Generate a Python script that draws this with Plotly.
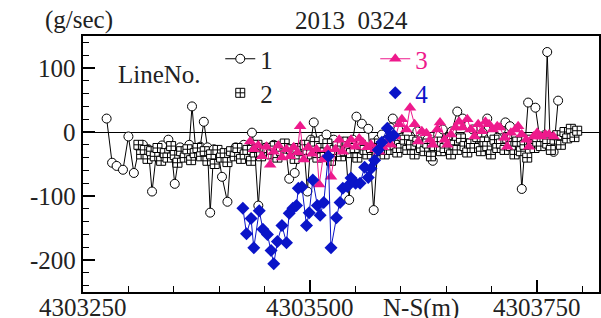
import plotly.graph_objects as go

# ---- data ----
s1_x = [4303276, 4303282, 4303287, 4303294, 4303300, 4303306, 4303312, 4303316, 4303322, 4303326,
        4303331, 4303337, 4303344, 4303347, 4303351, 4303357, 4303362, 4303367, 4303370, 4303374,
        4303379, 4303383, 4303387, 4303390, 4303394, 4303399, 4303403, 4303409, 4303413, 4303418,
        4303423, 4303427, 4303432, 4303436, 4303439, 4303443, 4303447, 4303452, 4303456, 4303460,
        4303465, 4303469, 4303474, 4303477, 4303483, 4303489, 4303493, 4303497, 4303501, 4303504,
        4303509, 4303513, 4303518, 4303522, 4303526, 4303531, 4303535, 4303539, 4303543, 4303547,
        4303551, 4303557, 4303564, 4303570, 4303575, 4303579, 4303584, 4303588, 4303591, 4303597,
        4303601, 4303607, 4303612, 4303618, 4303623, 4303629, 4303635, 4303641, 4303646, 4303652,
        4303656, 4303662, 4303668, 4303674, 4303679, 4303685, 4303690, 4303695, 4303700, 4303706,
        4303710, 4303715, 4303720, 4303726, 4303730, 4303733, 4303737, 4303740, 4303748, 4303753,
        4303758, 4303761, 4303764, 4303768, 4303773]
s1_y = [21, -48, -53, -59, -7, -64, -24, -20, -27, -93,
        -31, -21, -12, -27, -81, -24, -31, -20, 40, -27,
        -23, 16, -24, -126, -27, -35, -70, -109, -31, -24,
        -35, -20, -27, -1, -27, -115, -31, -24, -27, -20,
        -31, -27, -35, -73, -64, -27, -20, -93, -12, 15,
        -20, -12, -4, -20, -12, -24, -15, -27, -106, -12,
        24, 13, 5, -122, -12, -4, -12, 7, 21, 4,
        -9, -4, -12, 1, -9, -12, -45, -4, 4, -9,
        1, 32, 21, -4, 4, -9, -1, 21, -4, -9,
        4, 15, 9, -4, -12, -89, -12, 46, 38, -12,
        -5, 125, -9, -31, 49]

s2_x = [4303311, 4303314, 4303318, 4303321, 4303325, 4303329, 4303332, 4303336, 4303340, 4303343,
        4303347, 4303351, 4303354, 4303358, 4303362, 4303365, 4303369, 4303373, 4303376, 4303380,
        4303384, 4303387, 4303391, 4303395, 4303398, 4303402, 4303406, 4303409, 4303413, 4303417,
        4303420, 4303424, 4303428, 4303431, 4303435, 4303439, 4303442, 4303446, 4303450, 4303453,
        4303457, 4303461, 4303464, 4303468, 4303472, 4303475, 4303479, 4303483, 4303486, 4303490,
        4303494, 4303497, 4303501, 4303505, 4303508, 4303512, 4303516, 4303519, 4303523, 4303527,
        4303530, 4303534, 4303538, 4303541, 4303545, 4303549, 4303552, 4303556, 4303560, 4303563,
        4303567, 4303571, 4303574, 4303578, 4303582, 4303585, 4303589, 4303593, 4303596, 4303600,
        4303604, 4303607, 4303611, 4303615, 4303618, 4303622, 4303626, 4303629, 4303633, 4303637,
        4303640, 4303644, 4303648, 4303651, 4303655, 4303659, 4303662, 4303666, 4303670, 4303673,
        4303677, 4303681, 4303684, 4303688, 4303692, 4303695, 4303699, 4303703, 4303706, 4303710,
        4303714, 4303717, 4303721, 4303725, 4303728, 4303732, 4303736, 4303739, 4303743, 4303747,
        4303750, 4303754, 4303758, 4303761, 4303765, 4303769, 4303772, 4303776, 4303780, 4303783,
        4303787, 4303791, 4303794]
s2_y = [-20, -35, -28, -42, -30, -38, -25, -45, -33, -40,
        -22, -36, -48, -30, -40, -27, -44, -33, -25, -38,
        -30, -45, -35, -50, -28, -40, -33, -47, -30, -38,
        -25, -42, -35, -28, -45, -32, -20, -38, -30, -25,
        -35, -22, -40, -30, -18, -33, -27, -42, -25, -30,
        -20, -35, -28, -15, -40, -25, -32, -18, -45, -28,
        -22, -38, -30, -15, -33, -25, -40, -20, -28, -35,
        -25, -18, -30, -22, -35, -15, -28, -20, -32, -25,
        -12, -28, -20, -35, -15, -25, -30, -18, -38, -22,
        -15, -30, -25, -12, -35, -20, -28, -10, -22, -32,
        -18, -25, -8, -30, -15, -22, -35, -12, -25, -18,
        -28, -10, -22, -35, -15, -30, -20, -40, -12, -25,
        -15, -22, -8, -18, -28, -12, -5, -20, 0, -10,
        5, -8, 2]

s3_x = [4303434, 4303438, 4303443, 4303447, 4303452, 4303456, 4303460, 4303465, 4303469, 4303474,
        4303478, 4303482, 4303486, 4303489, 4303493, 4303498, 4303502, 4303507, 4303510, 4303514,
        4303519, 4303523, 4303528, 4303532, 4303536, 4303541, 4303545, 4303550, 4303554, 4303558,
        4303563, 4303567, 4303572, 4303576, 4303580, 4303585, 4303589, 4303594, 4303598, 4303601,
        4303606, 4303610, 4303615, 4303619, 4303623, 4303628, 4303632, 4303635, 4303640, 4303643,
        4303648, 4303651, 4303655, 4303660, 4303664, 4303668, 4303673, 4303677, 4303681, 4303685,
        4303689, 4303693, 4303697, 4303701, 4303706, 4303709, 4303714, 4303717, 4303721, 4303726,
        4303729, 4303733, 4303738, 4303741, 4303746, 4303750, 4303754, 4303759, 4303763, 4303768]
s3_y = [-15, -27, -21, -38, -23, -51, -31, -21, -40, -27,
        -38, -24, -32, 9, -43, -24, -34, -27, -82, -43,
        -27, -70, -27, -12, -31, -20, -12, -23, -10, -16,
        -24, -20, -27, -31, -24, -15, -20, -7, 12, 20,
        4, 38, 12, -15, 1, -2, -12, -20, 4, 15,
        -12, -20, -4, 7, 16, 7, 20, 4, -7, 12,
        1, 16, 12, 4, 9, 7, -9, -23, -1, 4,
        9, -4, -12, -23, -7, -1, -7, -4, -4, -7]

s4_x = [4303426, 4303430, 4303435, 4303438, 4303444, 4303448, 4303453, 4303457, 4303460, 4303464,
        4303469, 4303474, 4303477, 4303481, 4303485, 4303487, 4303491, 4303496, 4303499, 4303503,
        4303508, 4303511, 4303515, 4303520, 4303523, 4303529, 4303533, 4303536, 4303541, 4303545,
        4303550, 4303555, 4303560, 4303564, 4303567, 4303571, 4303575, 4303579, 4303585, 4303588,
        4303592]
s4_y = [-119, -159, -135, -181, -123, -152, -160, -185, -206, -171,
        -146, -173, -127, -119, -115, -88, -86, -146, -126, -75,
        -115, -130, -110, -38, -181, -134, -110, -88, -85, -72,
        -80, -80, -55, -71, -57, -44, -28, -16, 6, -8,
        -5]

x_ticks = [4303250, 4303500, 4303750]
x_tick_labels = ["4303250", "4303500", "4303750"]
y_ticks = [-200, -100, 0, 100]
y_tick_labels = ["-200", "-100", "0", "100"]

PINK = "#EE1A8C"
BLUE = "#0A14C8"
FONT = "'Liberation Serif', 'Times New Roman', Times, serif"
TXT = "#222222"
TF = dict(family=FONT, size=25, color=TXT)

fig = go.Figure()

fig.add_trace(go.Scatter(
    x=s1_x, y=s1_y, mode="lines+markers", name="1", legend="legend", legendrank=1,
    line=dict(color="black", width=1),
    marker=dict(symbol="circle", size=9, color="white", line=dict(color="black", width=1)),
))
fig.add_trace(go.Scatter(
    x=s2_x, y=s2_y, mode="markers", name="2", legend="legend2", legendrank=1,
    marker=dict(symbol="square-cross", size=9, color="white", line=dict(color="black", width=1)),
))
fig.add_trace(go.Scatter(
    x=s3_x, y=s3_y, mode="lines+markers", name=f"<span style='color:{PINK}'>3</span>",
    legend="legend", legendrank=2,
    line=dict(color=PINK, width=1),
    marker=dict(symbol="triangle-up", size=11, color=PINK),
))
fig.add_trace(go.Scatter(
    x=s4_x, y=s4_y, mode="lines+markers", showlegend=False,
    line=dict(color=BLUE, width=1),
    marker=dict(symbol="diamond", size=10, color=BLUE),
))
# legend-only entry for series 4 (markers only, as in the reference key)
fig.add_trace(go.Scatter(
    x=[None], y=[None], mode="markers", name=f"<span style='color:{BLUE}'>4</span>",
    legend="legend2", legendrank=2,
    marker=dict(symbol="diamond", size=10, color=BLUE),
))

leg_common = dict(
    orientation="h", xanchor="left", yanchor="top",
    font=TF, bgcolor="rgba(0,0,0,0)", borderwidth=0,
    entrywidth=110, entrywidthmode="pixels", traceorder="normal",
)

# tick labels as text placed through the axes' own scales (serif, hyphen minus)
tick_annots = [
    dict(text=t, xref="x", yref="paper", x=v, y=0, xanchor="center", yanchor="top",
         yshift=0, showarrow=False, font=TF)
    for v, t in zip(x_ticks, x_tick_labels)
] + [
    dict(text=t, xref="paper", yref="y", x=0, y=v, xanchor="right", yanchor="middle",
         xshift=-5, showarrow=False, font=TF)
    for v, t in zip(y_ticks, y_tick_labels)
]

fig.update_layout(
    width=601, height=318,
    margin=dict(l=83, r=2, t=36, b=26),
    paper_bgcolor="white", plot_bgcolor="white",
    font=TF,
    showlegend=True,
    legend=dict(x=0.266, y=1.0, **leg_common),
    legend2=dict(x=0.266, y=0.867, **leg_common),
    xaxis=dict(
        range=[4303250, 4303818], showgrid=False, zeroline=False, automargin=False,
        showline=True, linecolor="black", linewidth=2, mirror=True,
        tickmode="array", tickvals=x_ticks, showticklabels=False,
        ticks="inside", ticklen=12, tickwidth=1.5, tickcolor="black",
        minor=dict(tickmode="linear", tick0=4303250, dtick=50, ticks="inside",
                   ticklen=6, tickwidth=1.2, tickcolor="black"),
    ),
    yaxis=dict(
        range=[-250, 150], showgrid=False, automargin=False,
        zeroline=True, zerolinecolor="black", zerolinewidth=1,
        showline=True, linecolor="black", linewidth=1.5, mirror=True,
        tickmode="array", tickvals=y_ticks, showticklabels=False,
        ticks="inside", ticklen=12, tickwidth=1.5, tickcolor="black",
        minor=dict(tickmode="linear", tick0=0, dtick=20, ticks="inside",
                   ticklen=6, tickwidth=1.2, tickcolor="black"),
    ),
    annotations=tick_annots + [
        dict(text="(g/sec)", xref="paper", yref="paper", x=0.062, y=1.0, xanchor="right",
             yanchor="bottom", showarrow=False, font=TF),
        dict(text="2013\u00a0\u00a00324", xref="paper", yref="paper", x=0.52, y=1.0,
             xanchor="center", yanchor="bottom", showarrow=False, font=TF),
        dict(text="N-S(m)", xref="paper", yref="paper", x=0.655, y=0.0, xanchor="center",
             yanchor="top", yshift=0, showarrow=False, font=TF),
        dict(text="LineNo.", xref="paper", yref="paper", x=0.148, y=0.85, xanchor="center",
             yanchor="middle", showarrow=False, font=TF),
    ],
)

# the page's default 8px body margin would shift the 601x318 figure; remove it
fig.write_html(
    "out.html",
    config={"displayModeBar": False},
    post_script="document.body.style.margin='0';document.body.style.overflow='hidden';",
)
